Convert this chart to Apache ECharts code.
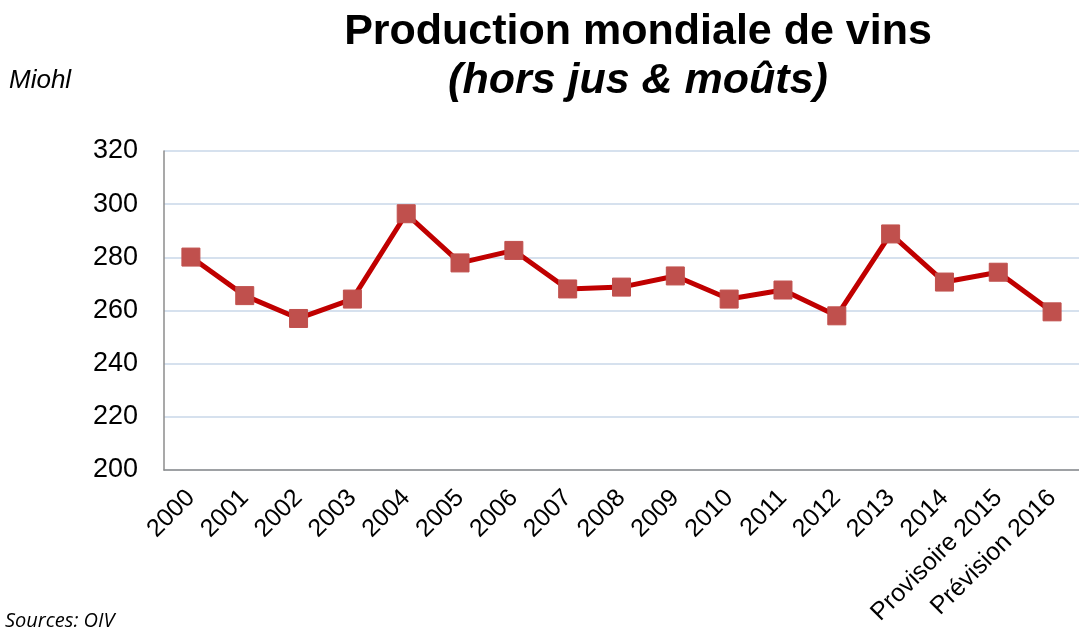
<!DOCTYPE html>
<html><head><meta charset="utf-8">
<script src="https://cdn.jsdelivr.net/npm/echarts@6/dist/echarts.min.js"></script>
<style>html,body{margin:0;padding:0;background:#fff}#c{width:1079px;height:630px}</style>
</head><body><div id="c"></div>
<script>
const categories = ['2000','2001','2002','2003','2004','2005','2006','2007','2008','2009','2010','2011','2012','2013','2014','Provisoire 2015','Prévision 2016'];
const production = [280.1, 265.6, 257.0, 264.3, 296.4, 277.9, 282.6, 268.1, 268.8, 273.0, 264.3, 267.7, 258.0, 288.8, 270.7, 274.4, 259.5];
const yTicks = {min: 200, max: 320, interval: 20};

const chart = echarts.init(document.getElementById('c'));
chart.setOption({
  animation: false,
  graphic: [{
    type: 'text', x: 638, y: 32,
    style: {text: 'Production mondiale de vins', font: 'bold 43px "Liberation Sans", Arial', fill: '#000', align: 'center', verticalAlign: 'middle'}
  },{
    type: 'text', x: 638, y: 81,
    style: {text: '(hors jus & moûts)', font: 'italic bold 43px "Liberation Sans", Arial', fill: '#000', align: 'center', verticalAlign: 'middle'}
  },{
    type: 'text', x: 9, y: 81,
    style: {text: 'Miohl', font: 'italic 26px "Liberation Sans", Arial', fill: '#000', align: 'left', verticalAlign: 'middle'}
  },{
    type: 'text', x: 5, y: 621,
    style: {text: 'Sources: OIV', font: 'italic 20px "Open Sans", "DejaVu Sans", sans-serif', fill: '#000', align: 'left', verticalAlign: 'middle'}
  }],
  grid: {left: 164, right: -11, top: 151, bottom: 160, containLabel: false},
  xAxis: {
    type: 'category', data: categories, boundaryGap: true,
    axisLine: {lineStyle: {color: '#8c8c8c', width: 1.5}},
    axisTick: {show: false},
    axisLabel: {rotate: 45, interval: 0, fontFamily: 'Liberation Sans, Arial', fontSize: 25, color: '#000', margin: 24}
  },
  yAxis: {
    type: 'value', min: yTicks.min, max: yTicks.max, interval: yTicks.interval,
    axisLine: {show: true, lineStyle: {color: '#8c8c8c', width: 1.5}},
    axisTick: {show: false},
    splitLine: {lineStyle: {color: '#c9d7e8', width: 1.5}},
    axisLabel: {fontFamily: 'Liberation Sans, Arial', fontSize: 27, color: '#000', margin: 26}
  },
  series: [{
    type: 'line', data: production,
    symbol: 'rect', symbolSize: 18,
    lineStyle: {color: '#c00000', width: 5},
    itemStyle: {color: '#c0504d', borderColor: '#c0504d'}
  }]
});
</script></body></html>
